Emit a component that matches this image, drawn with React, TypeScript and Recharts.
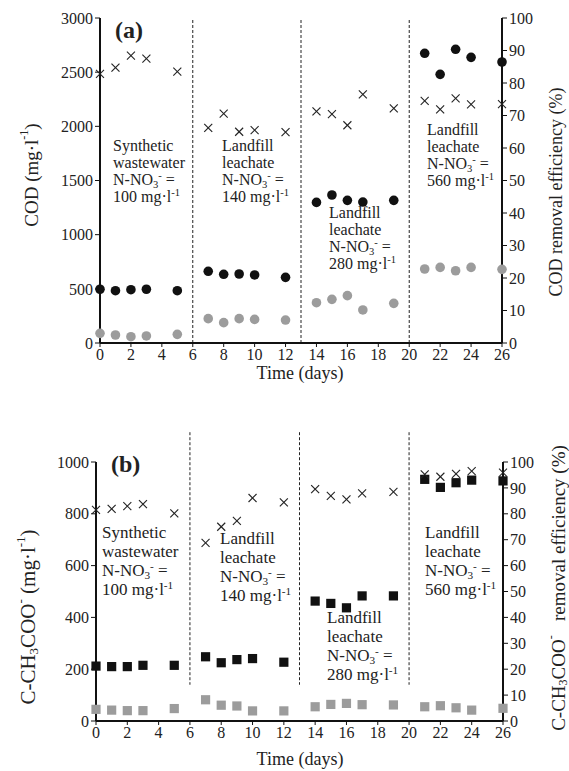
import { ReferenceLine, Scatter, ScatterChart, XAxis, YAxis } from "recharts";

const days = [0, 1, 2, 3, 5, 7, 8, 9, 10, 12, 14, 15, 16, 17, 19, 21, 22, 23, 24, 26];
const dayTicks = [0, 2, 4, 6, 8, 10, 12, 14, 16, 18, 20, 22, 24, 26];
const phaseBounds = [6, 13, 20];

// panel (a) COD
const codTicks = [0, 500, 1000, 1500, 2000, 2500, 3000];
const codInfluent = [496, 483, 492, 496, 483, 662, 634, 637, 628, 606, 1298, 1366, 1317, 1301, 1317, 2674, 2480, 2711, 2637, 2594];
const codEffluent = [89, 74, 58, 65, 80, 225, 188, 225, 218, 212, 372, 403, 437, 305, 366, 683, 698, 667, 698, 680];
const codRemoval = [82.8, 84.7, 88.4, 87.5, 83.5, 66.2, 70.6, 65.0, 65.5, 64.9, 71.3, 70.4, 67.0, 76.5, 72.2, 74.5, 71.9, 75.3, 73.4, 73.5];

// panel (b) acetate
const acTicks = [0, 200, 400, 600, 800, 1000];
const acInfluent = [212, 210, 210, 215, 215, 248, 225, 237, 241, 227, 463, 454, 437, 483, 483, 933, 902, 920, 930, 927];
const acEffluent = [45, 42, 40, 40, 48, 82, 61, 58, 39, 39, 55, 64, 68, 63, 62, 55, 59, 51, 42, 49];
const acRemoval = [81.5, 81.9, 83.0, 83.7, 80.2, 68.8, 75.0, 77.3, 86.1, 84.4, 89.5, 86.9, 85.6, 87.9, 88.5, 95.2, 94.3, 95.4, 96.5, 95.9];

const pctTicks = [0, 10, 20, 30, 40, 50, 60, 70, 80, 90, 100];

const FONT = "Liberation Serif, DejaVu Serif, serif";
const INK = "#111";
const GREY = "#9c9c9c";

const pts = (vals: number[]) => days.map((d, i) => ({ x: d, y: vals[i] }));

const dot = (fill: string) => (p: any) => <circle cx={p.cx} cy={p.cy} r={4.8} fill={fill} />;
const square = (fill: string) => (p: any) => (
  <rect x={p.cx - 4.6} y={p.cy - 4.6} width={9.2} height={9.2} fill={fill} />
);
const cross = (p: any) => (
  <g stroke="#222" strokeWidth={1.1}>
    <line x1={p.cx - 4} y1={p.cy - 4} x2={p.cx + 4} y2={p.cy + 4} />
    <line x1={p.cx - 4} y1={p.cy + 4} x2={p.cx + 4} y2={p.cy - 4} />
  </g>
);

const tick = { fill: "#222", fontSize: 16, fontFamily: FONT, style: { fontFamily: FONT } };
const axisLine = { stroke: INK, strokeWidth: 2 };
const tickLine = { stroke: INK, strokeWidth: 1 };
const txt = { fontFamily: FONT, fill: "#222" };

function Note({ x, y, lines, size, gap }: { x: number; y: number; lines: string[]; size: number; gap: number }) {
  const small = size * 0.66;
  return (
    <text x={x} y={y} fontSize={size} style={txt}>
      {lines.map((l, i) => {
        const yy = y + i * gap;
        if (l.startsWith("N-NO")) {
          return (
            <tspan key={i} x={x} y={yy}>
              N-NO
              <tspan dy={3} fontSize={small}>3</tspan>
              <tspan dy={-9} fontSize={small}>-</tspan>
              <tspan dy={6}> =</tspan>
            </tspan>
          );
        }
        if (l.endsWith("mg·l")) {
          return (
            <tspan key={i} x={x} y={yy}>
              {l}
              <tspan dy={-6} fontSize={small}>-1</tspan>
            </tspan>
          );
        }
        return (
          <tspan key={i} x={x} y={yy}>
            {l}
          </tspan>
        );
      })}
    </text>
  );
}

function VTitle({ x, y, size, children }: { x: number; y: number; size: number; children: any }) {
  return (
    <text
      transform={`translate(${x},${y}) rotate(-90)`}
      textAnchor="middle"
      dominantBaseline="central"
      fontSize={size}
      style={txt}
    >
      {children}
    </text>
  );
}

export default function App() {
  return (
    <div style={{ position: "absolute", left: 0, top: 0, width: 569, height: 771, background: "#fff", fontFamily: FONT }}>
      <div style={{ position: "absolute", left: 0, top: 0 }}>
        <ScatterChart width={569} height={390} margin={{ top: 18, right: 20, bottom: 17, left: 40 }}>
          <XAxis
            type="number"
            dataKey="x"
            domain={[0, 26]}
            ticks={dayTicks}
            height={30}
            tick={tick}
            axisLine={axisLine}
            tickLine={tickLine}
            tickSize={4}
          />
          <YAxis
            yAxisId="left"
            type="number"
            dataKey="y"
            domain={[0, 3000]}
            ticks={codTicks}
            width={60}
            tick={tick}
            axisLine={axisLine}
            tickLine={tickLine}
            tickSize={5}
          />
          <YAxis
            yAxisId="right"
            orientation="right"
            type="number"
            dataKey="y"
            domain={[0, 100]}
            ticks={pctTicks}
            width={47}
            tick={tick}
            axisLine={axisLine}
            tickLine={tickLine}
            tickSize={5}
          />
          {phaseBounds.map((b) => (
            <ReferenceLine key={b} yAxisId="left" x={b} stroke="#222" strokeDasharray="3 2" strokeWidth={1} />
          ))}
          <Scatter yAxisId="left" data={pts(codInfluent)} shape={dot(INK)} isAnimationActive={false} />
          <Scatter yAxisId="left" data={pts(codEffluent)} shape={dot(GREY)} isAnimationActive={false} />
          <Scatter yAxisId="right" data={pts(codRemoval)} shape={cross} isAnimationActive={false} />
        </ScatterChart>
      </div>

      <div style={{ position: "absolute", left: 0, top: 400 }}>
        <ScatterChart width={569} height={371} margin={{ top: 62, right: 20, bottom: 20, left: 36 }}>
          <XAxis
            type="number"
            dataKey="x"
            domain={[0, 26]}
            ticks={dayTicks}
            height={30}
            tick={tick}
            axisLine={axisLine}
            tickLine={tickLine}
            tickSize={4}
          />
          <YAxis
            yAxisId="left"
            type="number"
            dataKey="y"
            domain={[0, 1000]}
            ticks={acTicks}
            width={60}
            tick={tick}
            axisLine={axisLine}
            tickLine={tickLine}
            tickSize={5}
          />
          <YAxis
            yAxisId="right"
            orientation="right"
            type="number"
            dataKey="y"
            domain={[0, 100]}
            ticks={pctTicks}
            width={46}
            tick={tick}
            axisLine={axisLine}
            tickLine={tickLine}
            tickSize={5}
          />
          {phaseBounds.map((b) => (
            <ReferenceLine
              key={b}
              yAxisId="left"
              segment={[
                { x: b, y: 1115 },
                { x: b, y: 140 },
              ]}
              ifOverflow="visible"
              stroke="#222"
              strokeDasharray="3 2"
              strokeWidth={1}
            />
          ))}
          <Scatter yAxisId="left" data={pts(acInfluent)} shape={square(INK)} isAnimationActive={false} />
          <Scatter yAxisId="left" data={pts(acEffluent)} shape={square(GREY)} isAnimationActive={false} />
          <Scatter yAxisId="right" data={pts(acRemoval)} shape={cross} isAnimationActive={false} />
        </ScatterChart>
      </div>

      <svg
        width={569}
        height={771}
        style={{ position: "absolute", left: 0, top: 0, pointerEvents: "none" }}
      >
        <text x={115} y={38} fontSize={24} fontWeight="bold" style={txt}>(a)</text>
        <text x={111} y={472} fontSize={24} fontWeight="bold" style={txt}>(b)</text>

        <Note x={113} y={151} size={16} gap={17} lines={["Synthetic", "wastewater", "N-NO", "100 mg·l"]} />
        <Note x={222} y={151} size={16} gap={17} lines={["Landfill", "leachate", "N-NO", "140 mg·l"]} />
        <Note x={329} y={218} size={16} gap={17} lines={["Landfill", "leachate", "N-NO", "280 mg·l"]} />
        <Note x={427} y={135} size={16} gap={17} lines={["Landfill", "leachate", "N-NO", "560 mg·l"]} />

        <Note x={102} y={538} size={17} gap={19} lines={["Synthetic", "wastewater", "N-NO", "100 mg·l"]} />
        <Note x={220} y={544} size={17} gap={19} lines={["Landfill", "leachate", "N-NO", "140 mg·l"]} />
        <Note x={327} y={623} size={17} gap={19} lines={["Landfill", "leachate", "N-NO", "280 mg·l"]} />
        <Note x={425} y={538} size={17} gap={19} lines={["Landfill", "leachate", "N-NO", "560 mg·l"]} />

        <text x={300} y={379} textAnchor="middle" fontSize={18} style={txt}>Time (days)</text>
        <text x={300} y={765} textAnchor="middle" fontSize={18} style={txt}>Time (days)</text>

        <VTitle x={31} y={175} size={19}>
          COD (mg·l<tspan dy={-7} fontSize={12}>-1</tspan><tspan dy={7}>)</tspan>
        </VTitle>
        <VTitle x={556} y={192} size={18}>COD removal efficiency (%)</VTitle>

        <VTitle x={28} y={617} size={21}>
          C-CH<tspan dy={5} fontSize={13}>3</tspan><tspan dy={-5}>COO</tspan>
          <tspan dy={-8} fontSize={13}>-</tspan><tspan dy={8}> (mg·l</tspan>
          <tspan dy={-8} fontSize={13}>-1</tspan><tspan dy={8}>)</tspan>
        </VTitle>
        <VTitle x={558} y={588} size={19}>
          C-CH<tspan dy={5} fontSize={12}>3</tspan><tspan dy={-5}>COO</tspan>
          <tspan dy={-7} fontSize={12}>-</tspan><tspan dy={7}>{"\u00a0\u00a0\u00a0removal efficiency (%)"}</tspan>
        </VTitle>
      </svg>
    </div>
  );
}
